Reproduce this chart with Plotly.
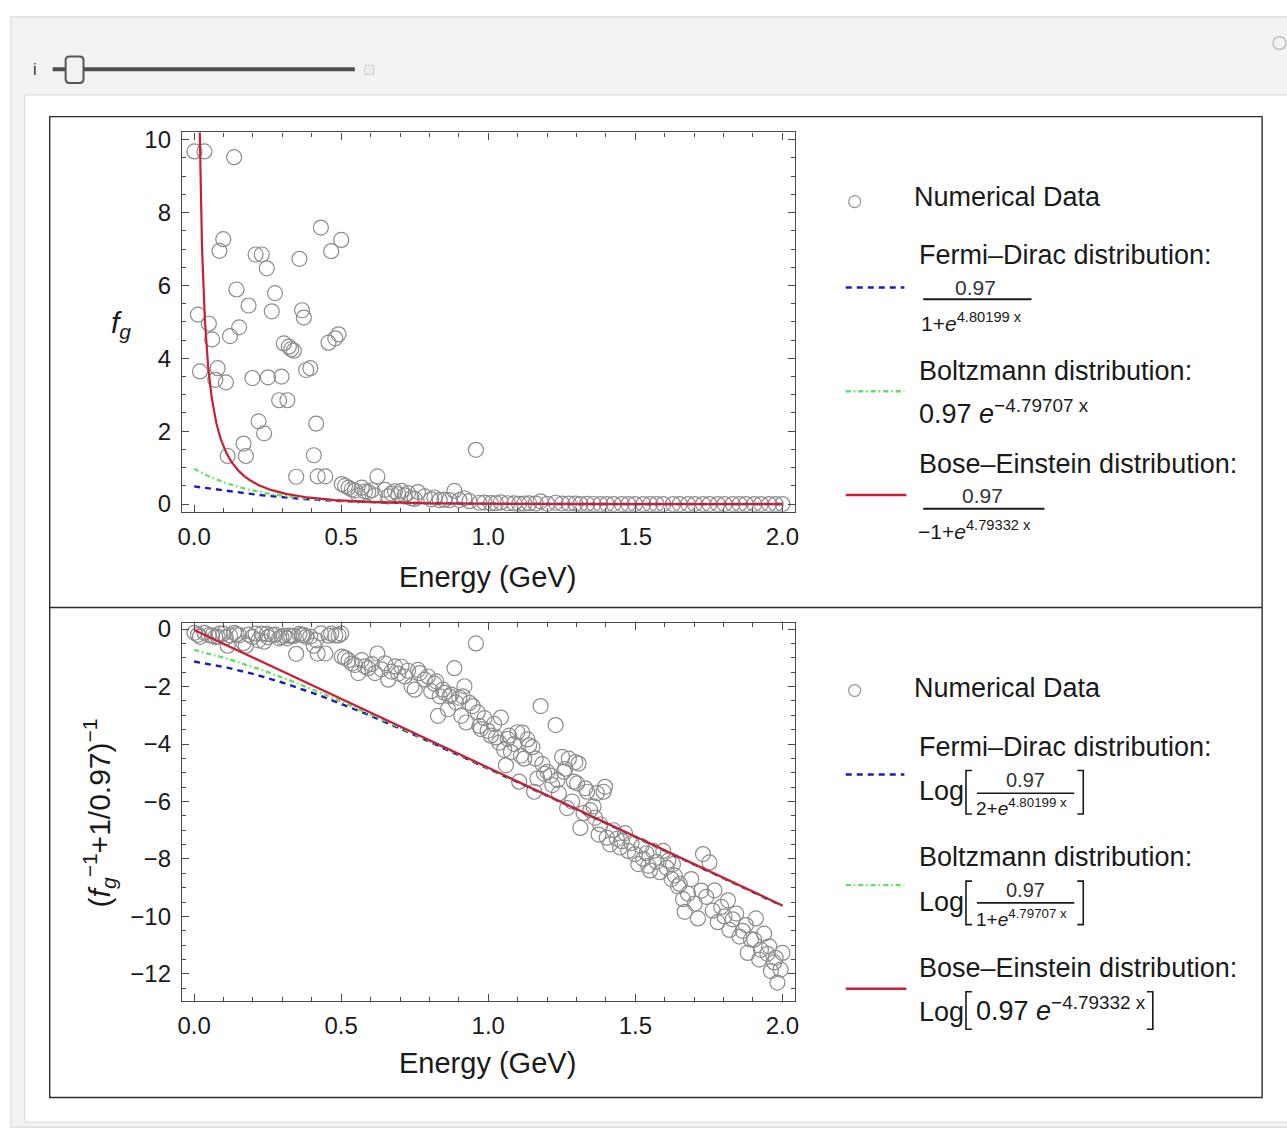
import numpy as np
import plotly.graph_objects as go

W, H = 1287, 1138
FONT = "Liberation Sans, Arial, sans-serif"
INK = "#1a1a1a"

# ---------------- numerical data: gluon occupation f_g versus energy ----------------
energy_top = [
    0.001, 0.013, 0.020, 0.035, 0.050, 0.061, 0.072, 0.080, 0.086, 0.099,
    0.108, 0.114, 0.122, 0.136, 0.144, 0.153, 0.168, 0.176, 0.185, 0.198,
    0.209, 0.219, 0.230, 0.238, 0.247, 0.251, 0.264, 0.275, 0.289, 0.297,
    0.305, 0.317, 0.322, 0.330, 0.339, 0.347, 0.358, 0.367, 0.373, 0.381,
    0.395, 0.407, 0.415, 0.420, 0.431, 0.446, 0.457, 0.466, 0.480, 0.491,
    0.500,
    0.502, 0.513, 0.525, 0.536, 0.547, 0.558, 0.570, 0.581, 0.592, 0.604,
    0.615, 0.623, 0.649, 0.660, 0.671, 0.683, 0.694, 0.705, 0.716, 0.727,
    0.739, 0.750, 0.761, 0.784, 0.806, 0.817, 0.835, 0.851, 0.868, 0.885,
    0.902, 0.919, 0.936, 0.958, 0.970, 0.987, 1.009, 1.026, 1.043, 1.066,
    1.088, 1.105, 1.122, 1.139, 1.161, 1.178, 1.201, 1.229, 1.251, 1.274,
    1.296, 1.313, 1.336, 1.358, 1.381, 1.403, 1.426, 1.454, 1.476, 1.499,
    1.527, 1.550, 1.572, 1.595, 1.628, 1.651, 1.679, 1.702, 1.730, 1.752,
    1.780, 1.803, 1.831, 1.854, 1.876, 1.904, 1.927, 1.955, 1.977, 2.000,
]
fg_top = [
    9.68, 5.20, 3.64, 9.68, 4.95, 4.52, 3.41, 3.73, 6.95, 7.27,
    3.34, 1.32, 4.61, 9.52, 5.89, 4.85, 1.66, 1.32, 5.45, 3.46,
    6.85, 2.27, 6.85, 1.94, 6.47, 3.48, 5.29, 5.79, 2.85, 3.50,
    4.41, 2.85, 4.32, 4.25, 4.21, 0.75, 6.73, 5.32, 5.12, 3.68,
    3.73, 1.34, 2.21, 0.76, 7.59, 0.76, 4.43, 6.94, 4.55, 4.66,
    7.25,
    0.55, 0.50, 0.45, 0.40, 0.37, 0.24, 0.45, 0.35, 0.33, 0.38,
    0.24, 0.76, 0.39, 0.21, 0.29, 0.35, 0.27, 0.36, 0.24, 0.30,
    0.16, 0.14, 0.33, 0.21, 0.13, 0.18, 0.11, 0.12, 0.11, 0.36,
    0.11, 0.16, 0.08, 1.49, 0.036, 0.040, 0.025, 0.022, 0.045, 0.022,
    0.018, 0.005, 0.011, 0.017, 0.011, 0.074, 0.007, 0.036, 0.012, 0.011,
    0.010, 0.001, 0.003, 0.002, 0.001, 0.001, 0.001, 0.001, 0.000, 0.000,
    0.000, 0.000, 0.000, 0.000, 0.000, 0.000, 0.000, 0.000, 0.000, 0.000,
    0.000, 0.000, 0.000, 0.000, 0.000, 0.000, 0.000, 0.000, 0.000, 0.000,
]

# transformed occupation, Log[(f_g^-1 + 1/0.97)^-1]
energy_bottom = [
    0.001, 0.013, 0.020, 0.035, 0.050, 0.061, 0.072, 0.080, 0.086, 0.099,
    0.108, 0.114, 0.122, 0.136, 0.144, 0.153, 0.168, 0.176, 0.185, 0.198,
    0.209, 0.219, 0.230, 0.238, 0.247, 0.251, 0.264, 0.275, 0.289, 0.297,
    0.305, 0.317, 0.322, 0.330, 0.339, 0.347, 0.358, 0.367, 0.373, 0.381,
    0.395, 0.407, 0.415, 0.420, 0.431, 0.446, 0.457, 0.466, 0.480, 0.491,
    0.500,
    0.502, 0.513, 0.525, 0.536, 0.547, 0.558, 0.570, 0.581, 0.592, 0.604,
    0.615, 0.623, 0.637, 0.649, 0.660, 0.671, 0.683, 0.694, 0.705, 0.716,
    0.727, 0.739, 0.750, 0.761, 0.767, 0.784, 0.795, 0.806, 0.817, 0.823,
    0.829, 0.835, 0.846, 0.851, 0.863, 0.868, 0.874, 0.885, 0.890, 0.902,
    0.908, 0.913, 0.919, 0.925, 0.936, 0.947, 0.958, 0.964, 0.970, 0.975,
    0.987, 0.998, 1.009, 1.020, 1.026, 1.037, 1.043, 1.054, 1.060, 1.066,
    1.071, 1.077, 1.088, 1.099, 1.105, 1.111, 1.116, 1.122, 1.133, 1.139,
    1.150, 1.156, 1.161, 1.167, 1.178, 1.184, 1.190, 1.201, 1.212, 1.218,
    1.229, 1.235, 1.240, 1.251, 1.257, 1.262, 1.268, 1.274, 1.285, 1.291,
    1.296, 1.302, 1.307, 1.313, 1.324, 1.330, 1.336, 1.347, 1.358, 1.363,
    1.369, 1.375, 1.381, 1.392, 1.397, 1.403, 1.414, 1.426, 1.437, 1.448,
    1.454, 1.465, 1.476, 1.487, 1.499, 1.510, 1.521, 1.527, 1.538, 1.544,
    1.550, 1.561, 1.572, 1.584, 1.595, 1.606, 1.612, 1.623, 1.628, 1.634,
    1.645, 1.651, 1.662, 1.668, 1.679, 1.690, 1.702, 1.713, 1.724, 1.730,
    1.741, 1.752, 1.763, 1.769, 1.780, 1.792, 1.803, 1.815, 1.820, 1.831,
    1.843, 1.854, 1.865, 1.876, 1.882, 1.893, 1.904, 1.910, 1.921, 1.927,
    1.938, 1.949, 1.955, 1.961, 1.972, 1.977, 1.983, 1.994, 2.000,
]
log_bottom = [
    -0.13, -0.20, -0.27, -0.13, -0.21, -0.23, -0.28, -0.26, -0.16, -0.16,
    -0.29, -0.58, -0.22, -0.13, -0.18, -0.21, -0.49, -0.58, -0.19, -0.28,
    -0.16, -0.39, -0.16, -0.44, -0.17, -0.28, -0.20, -0.19, -0.32, -0.28,
    -0.23, -0.32, -0.23, -0.24, -0.24, -0.86, -0.17, -0.20, -0.21, -0.27,
    -0.26, -0.58, -0.39, -0.85, -0.15, -0.85, -0.23, -0.16, -0.22, -0.22,
    -0.16,
    -0.96, -1.00, -1.08, -1.20, -1.25, -1.53, -1.08, -1.30, -1.36, -1.22,
    -1.53, -0.85, -1.40, -1.19, -1.76, -1.48, -1.30, -1.55, -1.31, -1.65,
    -1.45, -1.99, -2.11, -1.42, -1.53, -1.76, -1.65, -2.16, -1.90, -1.82,
    -3.02, -2.34, -2.11, -2.22, -2.79, -2.34, -2.28, -1.36, -2.55, -2.39,
    -3.02, -2.34, -1.99, -3.25, -2.57, -2.68, -0.50, -2.90, -3.37, -3.48,
    -3.10, -3.54, -3.71, -3.30, -3.77, -3.95, -3.08, -4.20, -4.74, -3.82,
    -3.71, -4.28, -4.00, -3.59, -5.31, -4.40, -3.60, -4.51, -3.84, -4.05,
    -4.11, -5.66, -4.51, -5.20, -2.68, -4.70, -5.03, -4.97, -5.10, -5.43,
    -3.34, -5.25, -5.72, -4.45, -4.97, -4.86, -6.23, -4.51, -6.00, -5.31,
    -4.63, -5.37, -4.68, -6.92, -6.40, -5.54, -5.66, -6.30, -6.17, -6.57,
    -5.71, -7.15, -6.80, -5.66, -5.49, -7.26, -7.49, -7.00, -7.30, -7.60,
    -7.38, -7.10, -7.72, -7.45, -7.83, -8.18, -7.55, -8.00, -7.80, -8.24,
    -8.40, -7.72, -8.10, -8.46, -7.72, -8.30, -8.06, -8.70, -8.18, -8.58,
    -8.95, -8.87, -9.40, -9.84, -9.21, -8.70, -9.55, -10.07, -9.10, -7.83,
    -9.32, -8.12, -9.80, -9.09, -10.20, -9.67, -10.00, -9.44, -10.47, -10.10,
    -9.90, -10.70, -10.50, -10.30, -11.27, -10.80, -10.81, -10.07, -11.50, -11.16,
    -10.60, -11.30, -11.04, -11.90, -11.60, -11.44, -12.30, -11.85, -11.27,
]

# ---------------- fitted distributions ----------------
AMP = 0.97
B_FD = 4.80199
B_MB = 4.79707
B_BE = 4.79332

BLUE = "#1c1cb8"
GREEN = "#5fe35f"
RED = "#cc1d36"
GREY = "#8c8c8c"

x_fit = np.linspace(0.0, 2.0, 500)
x_be = np.concatenate([np.linspace(0.0185, 0.2, 400), np.linspace(0.2, 2.0, 400)])

fd_top = AMP / (1.0 + np.exp(B_FD * x_fit))
mb_top = AMP * np.exp(-B_MB * x_fit)
be_top = AMP / (np.exp(B_BE * x_be) - 1.0)

fd_bot = np.log(AMP / (2.0 + np.exp(B_FD * x_fit)))
mb_bot = np.log(AMP / (1.0 + np.exp(B_MB * x_fit)))
be_bot = np.log(AMP * np.exp(-B_BE * x_fit))

fig = go.Figure()

marker = dict(symbol="circle-open", size=15, color=GREY, line=dict(width=1.2, color=GREY))

for xa, ya, ex, ey, fd, mb, bx, be in [
    ("x", "y", energy_top, fg_top, fd_top, mb_top, x_be, be_top),
    ("x2", "y2", energy_bottom, log_bottom, fd_bot, mb_bot, x_fit, be_bot),
]:
    fig.add_trace(go.Scatter(x=ex, y=ey, mode="markers", marker=marker,
                             xaxis=xa, yaxis=ya, showlegend=False, cliponaxis=True))
    fig.add_trace(go.Scatter(x=x_fit, y=fd, mode="lines",
                             line=dict(color=BLUE, width=2.4, dash="6px,5px"),
                             xaxis=xa, yaxis=ya, showlegend=False))
    fig.add_trace(go.Scatter(x=x_fit, y=mb, mode="lines",
                             line=dict(color=GREEN, width=2.4, dash="5px,3px,1.5px,3px"),
                             xaxis=xa, yaxis=ya, showlegend=False))
    fig.add_trace(go.Scatter(x=bx, y=be, mode="lines",
                             line=dict(color=RED, width=2.2),
                             xaxis=xa, yaxis=ya, showlegend=False))

# ---------------- axes ----------------
X0, X1 = 179, 796
TOP_Y0, TOP_Y1 = 126, 510
BOT_Y0, BOT_Y1 = 623, 1005
AXC = "#4a4a4a"
tickfont = dict(family=FONT, size=24, color=INK)


def xaxis_cfg(anchor):
    return dict(domain=[X0 / W, X1 / W], anchor=anchor, range=[-0.0416, 2.043],
                tick0=0, dtick=0.5, tickformat=".1f", ticks="inside", ticklen=7,
                tickwidth=1, tickcolor=AXC, showline=True, linecolor=AXC, linewidth=1.2,
                mirror="allticks", showgrid=False, zeroline=False, tickfont=tickfont,
                ticklabelstandoff=3,
                minor=dict(tick0=0, dtick=0.1, ticks="inside", ticklen=4, tickcolor=AXC,
                           showgrid=False))


def yaxis_cfg(anchor, dom, rng):
    return dict(domain=dom, anchor=anchor, range=rng, tick0=0, dtick=2,
                ticks="inside", ticklen=7, tickwidth=1, tickcolor=AXC, showline=True,
                linecolor=AXC, linewidth=1.2, mirror="allticks", showgrid=False,
                zeroline=False, tickfont=tickfont, ticklabelstandoff=5,
                minor=dict(tick0=0, dtick=0.5, ticks="inside", ticklen=4, tickcolor=AXC,
                           showgrid=False))


fig.update_layout(
    xaxis=xaxis_cfg("y"),
    yaxis=yaxis_cfg("x", [1 - TOP_Y1 / H, 1 - TOP_Y0 / H], [-0.21, 10.2]),
    xaxis2=xaxis_cfg("y2"),
    yaxis2=yaxis_cfg("x2", [1 - BOT_Y1 / H, 1 - BOT_Y0 / H], [-12.93, 0.2]),
)


# ---------------- page furniture ----------------
def px(x):
    return x / W


def py(y):
    return 1 - y / H


shapes = []
annots = []


def rect(x0, y0, x1, y1, fill, line, lw=1, layer="below"):
    shapes.append(dict(type="rect", xref="paper", yref="paper", x0=px(x0), x1=px(x1),
                       y0=py(y0), y1=py(y1), fillcolor=fill,
                       line=dict(color=line, width=lw), layer=layer))


def seg(x0, y0, x1, y1, color, width=1, dash="solid"):
    shapes.append(dict(type="line", xref="paper", yref="paper", x0=px(x0), x1=px(x1),
                       y0=py(y0), y1=py(y1), line=dict(color=color, width=width, dash=dash)))


def text(x, y, s, size, xanchor="left", color=INK, angle=0, yanchor="middle"):
    annots.append(dict(x=px(x), y=py(y), xref="paper", yref="paper", text=s,
                       showarrow=False, xanchor=xanchor, yanchor=yanchor, textangle=angle,
                       font=dict(family=FONT, size=size, color=color)))


def bracket(x, y0, y1, side, color=INK):
    d = 6 if side == "left" else -6
    path = (f"M {px(x + d)} {py(y0)} L {px(x)} {py(y0)} "
            f"L {px(x)} {py(y1)} L {px(x + d)} {py(y1)}")
    shapes.append(dict(type="path", xref="paper", yref="paper", path=path,
                       line=dict(color=color, width=1.6)))


# outer Manipulate panel
rect(7, 9, 1320, 1133, "#f3f3f3", "#d9d9d9", 1.2)
rect(21, 88, 1320, 1128, "#ffffff", "#dedede", 1.2)
# frame around both plots
rect(46, 110, 1266, 1103, "rgba(0,0,0,0)", "#2e2e2e", 1.4)
seg(46, 607, 1266, 607, "#2e2e2e", 1.4)

# slider control
text(31, 62, "i", 16, xanchor="center", color="#2b2b5a")
seg(49, 62, 353, 62, "#4d4d4d", 4)
shapes.append(dict(type="path", xref="paper", yref="paper", fillcolor="#f2f2f2",
                   line=dict(color="#555555", width=2),
                   path=(f"M {px(66)} {py(49)} L {px(76)} {py(49)} Q {px(80)} {py(49)} {px(80)} {py(53)} "
                         f"L {px(80)} {py(72)} Q {px(80)} {py(76)} {px(76)} {py(76)} "
                         f"L {px(66)} {py(76)} Q {px(62)} {py(76)} {px(62)} {py(72)} "
                         f"L {px(62)} {py(53)} Q {px(62)} {py(49)} {px(66)} {py(49)} Z")))
rect(363, 58, 372, 67, "#eeeeee", "#cccccc", 1, layer="above")
shapes.append(dict(type="circle", xref="paper", yref="paper", x0=px(1277), x1=px(1290),
                   y0=py(29), y1=py(42), line=dict(color="#bdbdbd", width=1.5)))

# axis titles
text(118, 320, "<i>f</i><sub><i>g</i></sub>", 30, xanchor="center")
text(487, 576, "Energy (GeV)", 29, xanchor="center")
text(487, 1068, "Energy (GeV)", 29, xanchor="center")
text(96, 815, "(<i>f</i><sub><i>g</i></sub><sup>\u22121</sup>+1/0.97)<sup>\u22121</sup>", 30,
     xanchor="center", angle=-90)


# ---------------- legends ----------------
def circle_key(cx, cy):
    shapes.append(dict(type="circle", xref="paper", yref="paper", x0=px(cx - 6), x1=px(cx + 6),
                       y0=py(cy - 6), y1=py(cy + 6), line=dict(color="#9a9a9a", width=1.3)))


def line_keys(yb, yg, yr):
    seg(847, yb, 906, yb, BLUE, 2.4, "6px,5px")
    seg(847, yg, 906, yg, GREEN, 2.4, "5px,3px,1.5px,3px")
    seg(847, yr, 908, yr, RED, 2.4)


LEG = 27

# top legend
circle_key(856, 196)
text(914, 191, "Numerical Data", LEG)
text(919, 250, "Fermi\u2013Dirac distribution:", LEG)
text(919, 368, "Boltzmann distribution:", LEG)
text(919, 462, "Bose\u2013Einstein distribution:", LEG)
line_keys(283, 388, 493)

text(978, 283, "0.97", 21, xanchor="center", color="#333333")
seg(925, 295, 1034, 295, INK, 2)
text(921, 318, f"1+<i>e</i><sup>{B_FD} x</sup>", 21)

text(919, 409, f"0.97 <i>e</i><sup>\u2212{B_MB} x</sup>", 27)

text(985, 494, "0.97", 21, xanchor="center", color="#333333")
seg(925, 507, 1047, 507, INK, 2)
text(918, 528, f"\u22121+<i>e</i><sup>{B_BE} x</sup>", 21)

# bottom legend
circle_key(856, 691)
text(914, 688, "Numerical Data", LEG)
text(919, 748, "Fermi\u2013Dirac distribution:", LEG)
text(919, 860, "Boltzmann distribution:", LEG)
text(919, 972, "Bose\u2013Einstein distribution:", LEG)
line_keys(776, 888, 993)

for ytxt, ynum, ybar, yden, lead, bexp in [(793, 782, 795, 809, "2", B_FD),
                                           (905, 893, 906, 921, "1", B_MB)]:
    text(919, ytxt, "Log", LEG)
    bracket(968, ytxt - 21, ytxt + 23, "left")
    text(1028, ynum, "0.97", 20, xanchor="center", color="#333333")
    seg(979, ybar, 1077, ybar, INK, 1.6)
    text(976, yden, f"{lead}+<i>e</i><sup>{bexp} x</sup>", 19)
    bracket(1086, ytxt - 21, ytxt + 23, "right")

text(919, 1016, "Log", LEG)
bracket(968, 996, 1034, "left")
text(976, 1013, f"0.97 <i>e</i><sup>\u2212{B_BE} x</sup>", 27)
bracket(1156, 996, 1034, "right")

fig.update_layout(
    width=W, height=H, margin=dict(l=0, r=0, t=0, b=0),
    paper_bgcolor="#ffffff", plot_bgcolor="rgba(0,0,0,0)",
    shapes=shapes, annotations=annots, showlegend=False,
    font=dict(family=FONT, color=INK),
)

fig.write_html("out.html")
